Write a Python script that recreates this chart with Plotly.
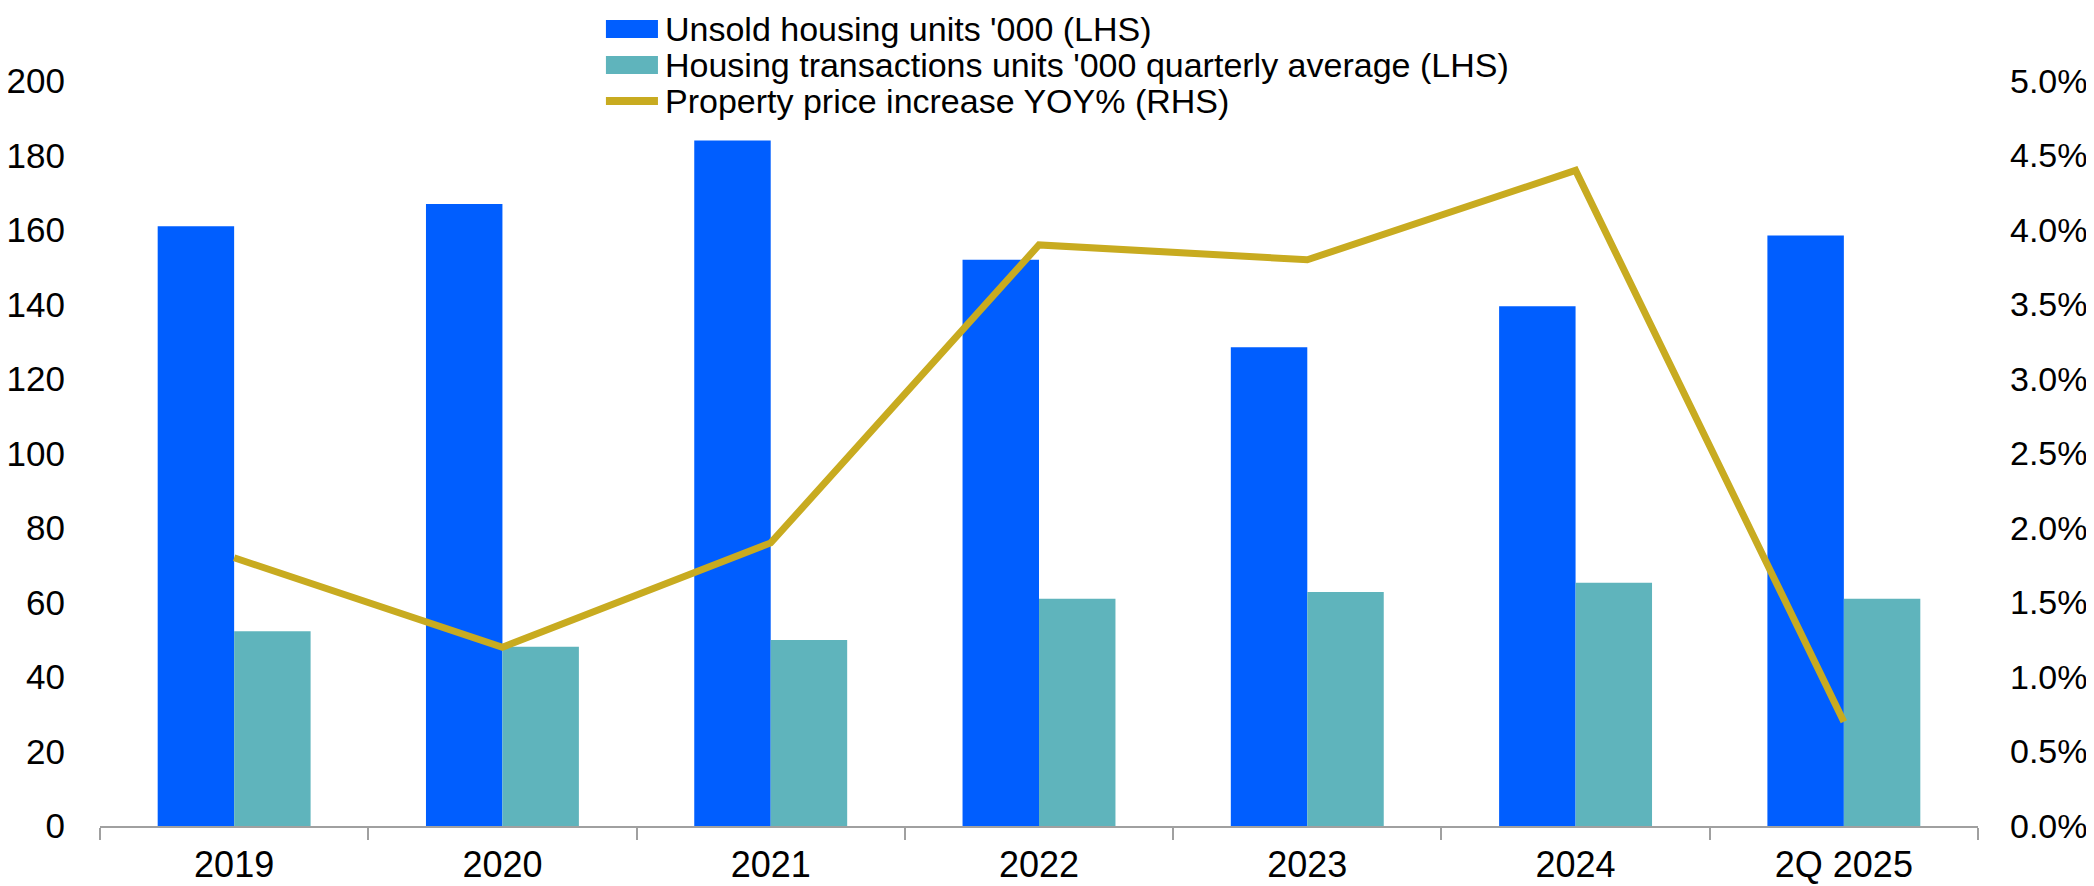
import plotly.graph_objects as go

# chart data
periods = ["2019", "2020", "2021", "2022", "2023", "2024", "2Q 2025"]
unsold_units = [161, 167, 184, 152, 128.5, 139.5, 158.5]
transactions_qavg = [52.3, 48.1, 49.9, 61.0, 62.8, 65.3, 61.0]
price_yoy_pct = [1.8, 1.2, 1.9, 3.9, 3.8, 4.4, 0.7]

FONT = "Arial, Liberation Sans, sans-serif"
BLUE = "#005EFF"
TEAL = "#5FB4BC"
GOLD = "#C8AB20"

NAMES = [
    "Unsold housing units '000 (LHS)",
    "Housing transactions units '000 quarterly average (LHS)",
    "Property price increase YOY% (RHS)",
]

fig = go.Figure()

fig.add_trace(go.Bar(
    x=periods, y=unsold_units, name=NAMES[0],
    marker=dict(color=BLUE, line=dict(width=0)),
))
fig.add_trace(go.Bar(
    x=periods, y=transactions_qavg, name=NAMES[1],
    marker=dict(color=TEAL, line=dict(width=0)),
))
fig.add_trace(go.Scatter(
    x=periods, y=price_yoy_pct, name=NAMES[2],
    mode="lines", line=dict(color=GOLD, width=7),
    yaxis="y2",
))

# hand-drawn legend so the keys get the big rectangles of the original
key_x0, key_x1, text_x = 0.2694, 0.2971, 0.3005
rows = [1.0698, 1.0215, 0.9732]
half_h = 0.0122
for i, (name, yc) in enumerate(zip(NAMES, rows)):
    if i < 2:
        fig.add_shape(type="rect", xref="paper", yref="paper",
                      x0=key_x0, x1=key_x1, y0=yc - half_h, y1=yc + half_h,
                      fillcolor=[BLUE, TEAL][i], line=dict(width=0))
    else:
        fig.add_shape(type="line", xref="paper", yref="paper",
                      x0=key_x0, x1=key_x1, y0=yc, y1=yc,
                      line=dict(color=GOLD, width=8))
    fig.add_annotation(x=text_x, y=yc, xref="paper", yref="paper",
                       text=name, showarrow=False, xanchor="left", yanchor="middle",
                       borderpad=0,
                       font=dict(size=34, family=FONT, color="black"))

# the page body adds an 8px offset, so margins are trimmed on top/left
fig.update_layout(
    width=2094, height=886,
    paper_bgcolor="white", plot_bgcolor="white",
    font=dict(family=FONT, size=36, color="black"),
    barmode="group", bargap=0.43, bargroupgap=0,
    margin=dict(l=92, r=124, t=73, b=68, autoexpand=False),
    showlegend=False,
    xaxis=dict(
        type="category",
        showline=True, linecolor="#A0A0A0", linewidth=2,
        ticks="outside", tickson="boundaries", ticklen=12,
        tickcolor="#A0A0A0", tickwidth=2,
        showgrid=False, zeroline=False,
        tickfont=dict(size=36),
        ticklabelstandoff=6,
    ),
    yaxis=dict(
        range=[0, 200], dtick=20,
        showgrid=False, zeroline=False, showline=False,
        ticks="", tickfont=dict(size=35),
        ticklabelstandoff=34,
    ),
    yaxis2=dict(
        range=[0, 5], dtick=0.5, tickformat=".1f", ticksuffix="%",
        overlaying="y", side="right",
        showgrid=False, zeroline=False, showline=False,
        ticks="", tickfont=dict(size=34),
        ticklabelstandoff=31,
    ),
)

fig.write_html("out.html")
